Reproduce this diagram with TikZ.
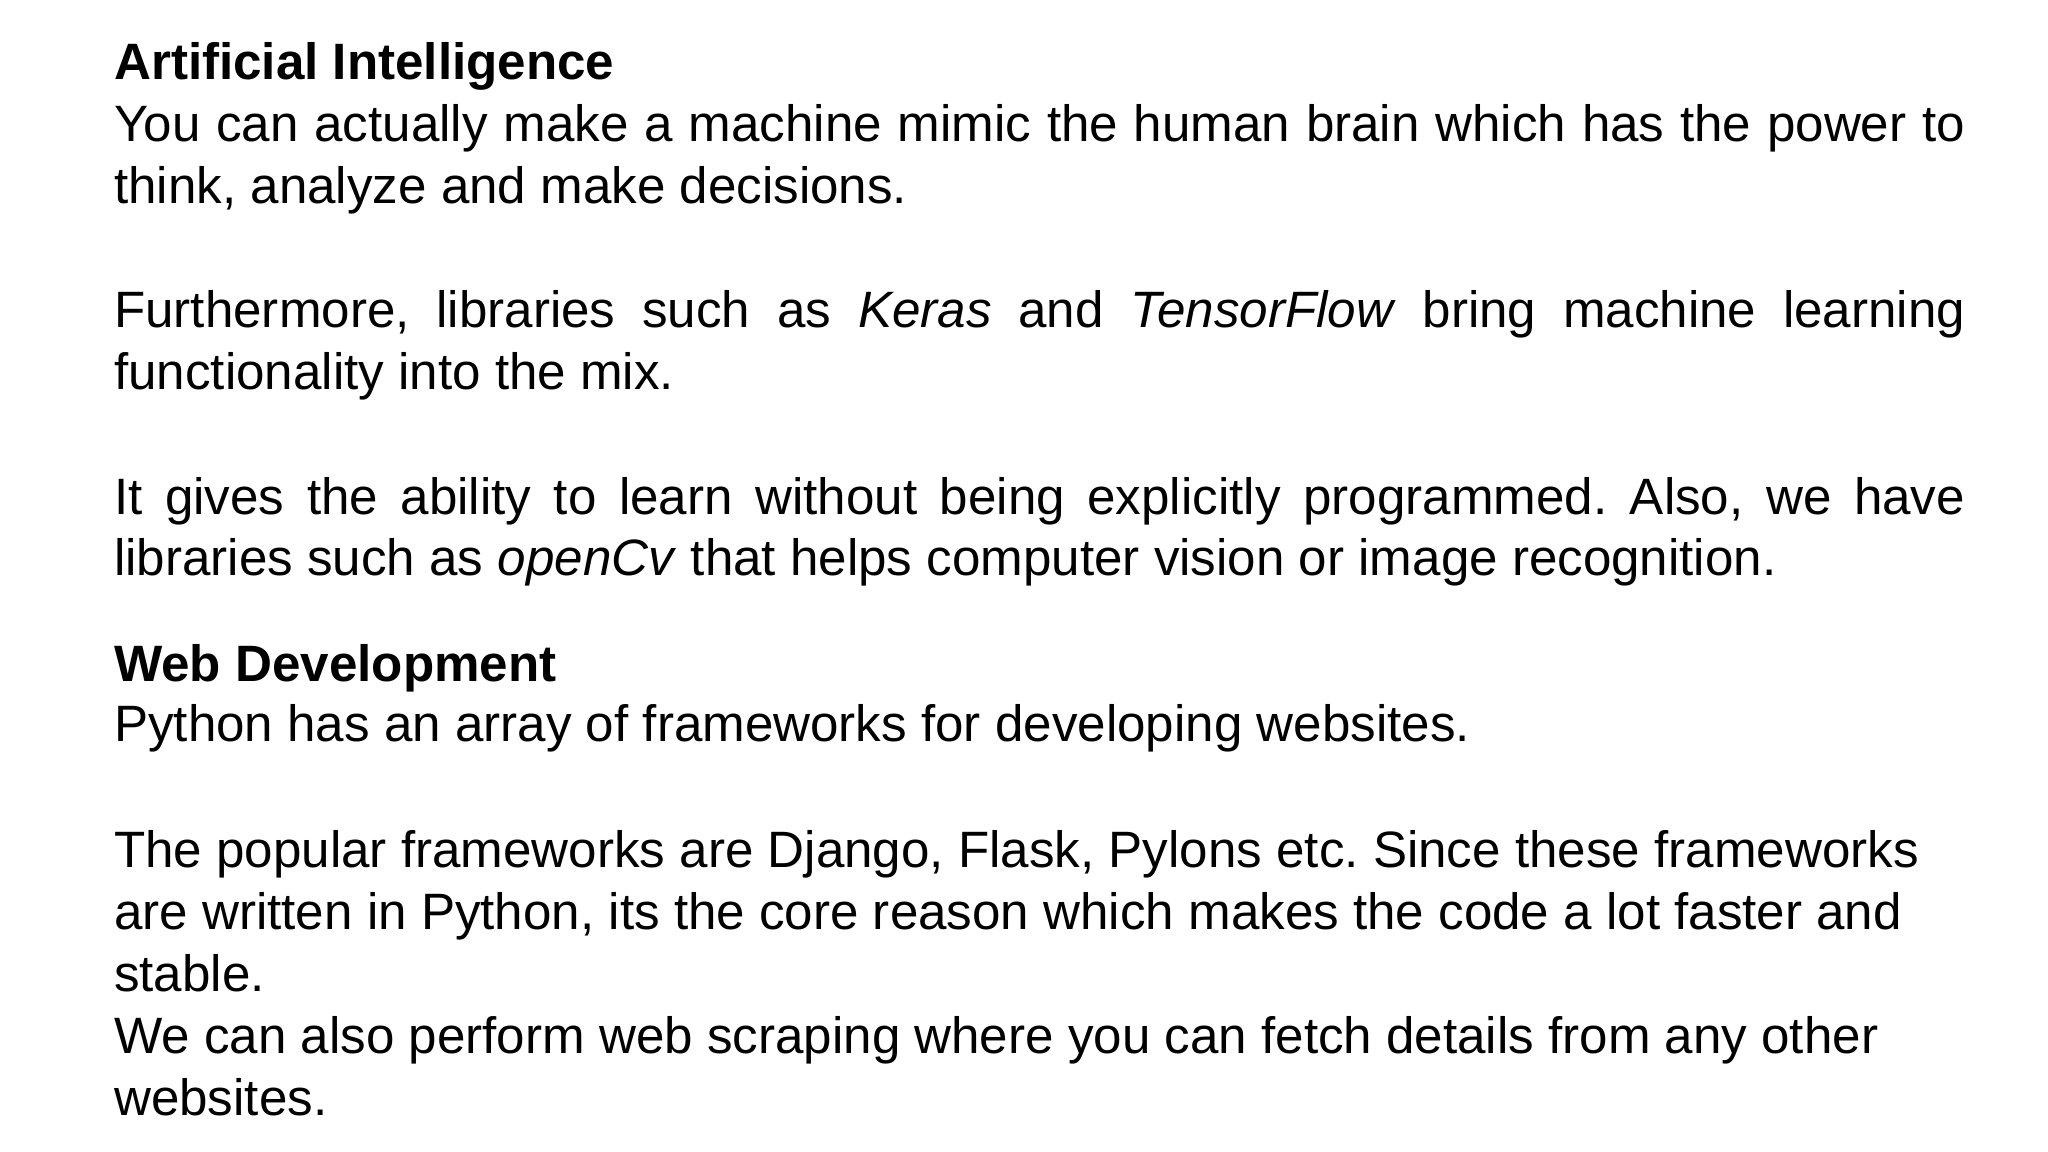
\documentclass[tikz,border=0pt]{standalone}
\usepackage{fontspec}
\setmainfont{Liberation Sans}
\frenchspacing
\begin{document}
\begin{tikzpicture}[x=1cm,y=1cm,
  ln/.style={anchor=base west,inner sep=0pt,font=\fontsize{14.55pt}{18pt}\selectfont}]
\useasboundingbox[fill=white] (0,0) rectangle (20.48,-11.52);
\newcommand{\jl}[1]{\hbox to 18.51cm{#1}}
\node[ln] (l1) at (1.135,-0.80) {\textbf{Artificial Intelligence}};
\node[ln] (l2) at (1.135,-1.42) {\jl{You can actually make a machine mimic the human brain which has the power to}};
\node[ln] (l3) at (1.135,-2.04) {think, analyze and make decisions.};
\node[ln] (l4) at (1.135,-3.28) {\jl{Furthermore, libraries such as \textit{Keras} and \textit{TensorFlow} bring machine learning}};
\node[ln] (l5) at (1.135,-3.90) {functionality into the mix.};
\node[ln] (l6) at (1.135,-5.14) {\jl{It gives the ability to learn without being explicitly programmed. Also, we have}};
\node[ln] (l7) at (1.135,-5.76) {libraries such as \textit{openCv} that helps computer vision or image recognition.};
\node[ln] (l8) at (1.135,-6.81) {\textbf{Web Development}};
\node[ln] (l9) at (1.135,-7.42) {Python has an array of frameworks for developing websites.};
\node[ln] (l10) at (1.135,-8.67) {The popular frameworks are Django, Flask, Pylons etc. Since these frameworks};
\node[ln] (l11) at (1.135,-9.29) {are written in Python, its the core reason which makes the code a lot faster and};
\node[ln] (l12) at (1.135,-9.91) {stable.};
\node[ln] (l13) at (1.135,-10.53) {We can also perform web scraping where you can fetch details from any other};
\node[ln] (l14) at (1.135,-11.15) {websites.};
\end{tikzpicture}
\end{document}
